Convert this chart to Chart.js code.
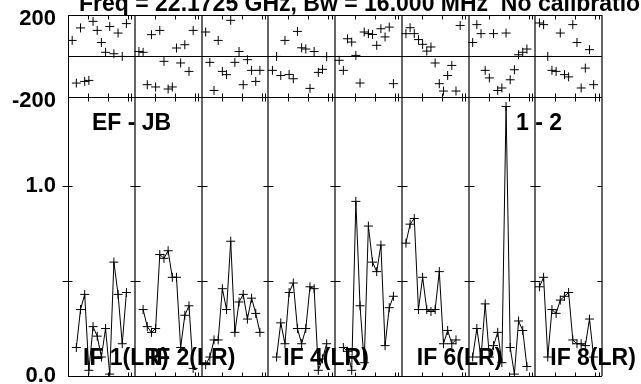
<!DOCTYPE html>
<html>
<head>
<meta charset="utf-8">
<script src="https://cdn.jsdelivr.net/npm/chart.js@4"></script>
<style>
  html, body { margin: 0; padding: 0; background: #fff; }
</style>
</head>
<body>
<canvas id="possm" width="641" height="384"></canvas>
<script>
/* POSSM-style cross-power spectrum, baseline EF - JB, 8 IFs (LR)
   top strip = phase (deg), bottom = amplitude */

const channels = [1, 2, 3, 4, 5, 6, 7, 8, 9, 10, 11, 12, 13, 14];

const ampIF1 = [null, 0.15, 0.35, 0.43, 0.03, 0.26, 0.21, 0.10, 0.25, 0.01, 0.60, 0.43, 0.17, 0.44];
const ampIF2 = [null, 0.35, 0.26, 0.23, 0.25, 0.64, 0.62, 0.66, 0.52, 0.52, 0.15, 0.32, 0.37, 0.04];
const ampIF3 = [0.06, 0.10, 0.19, 0.19, 0.46, 0.35, 0.71, 0.23, 0.39, 0.43, 0.30, 0.41, 0.33, 0.23];
const ampIF4 = [null, 0.10, 0.28, 0.17, 0.44, 0.49, 0.25, 0.17, 0.25, 0.47, 0.46, 0.03, 0.09, 0.17];
const ampIF5 = [null, 0.15, 0.13, 0.03, 0.92, 0.37, 0.07, 0.79, 0.60, 0.55, 0.69, 0.16, 0.36, 0.42];
const ampIF6 = [0.70, 0.80, 0.83, 0.35, 0.52, 0.35, 0.34, 0.35, 0.55, 0.17, 0.24, 0.17, 0.19, null];
const ampIF7 = [0.10, 0.25, 0.10, 0.38, 0.10, 0.16, 0.23, 0.07, 1.42, 0.15, 0.01, 0.29, 0.24, 0.05];
const ampIF8 = [0.47, 0.52, 0.10, 0.35, 0.33, 0.40, 0.42, 0.44, 0.19, 0.17, 0.17, 0.16, 0.30, 0.10];

const phsIF1 = [76, -132, 137, -124, -119, 169, 125, 66, 18, 144, 11, 112, -2, 158];
const phsIF2 = [22, 18, -140, 104, -151, 125, -26, -161, -151, 39, -34, 55, -75, 125];
const phsIF3 = [117, -31, -168, 76, -75, -91, 174, -31, 22, -140, -18, -70, -124, -70];
const phsIF4 = [-70, -2, -95, 76, -90, -111, 120, 40, 34, -158, 22, -80, -65, -3];
const phsIF5 = [-21, -70, 84, 68, 3, -132, 117, 109, 105, 52, 133, 93, 141, -135];
const phsIF6 = [109, 138, 109, 80, 57, 24, 44, -34, -135, -171, -95, -46, -171, 149];
const phsIF7 = [66, 153, 109, -70, -107, 109, -168, -156, 112, -116, -67, 6, 18, 34];
const phsIF8 = [161, 153, -2, -70, -75, 112, -91, -102, 153, 66, -156, -59, 31, -140];

const ifNames = ['IF 1(LR)', 'IF 2(LR)', '', 'IF 4(LR)', '', 'IF 6(LR)', '', 'IF 8(LR)'];
const phaseTicks = [-200, 0, 200];
const ampTicks = [0, 0.5, 1.0];
const ampLabels = ['0.0', '', '1.0'];

const amps = [ampIF1, ampIF2, ampIF3, ampIF4, ampIF5, ampIF6, ampIF7, ampIF8];
const phases = [phsIF1, phsIF2, phsIF3, phsIF4, phsIF5, phsIF6, phsIF7, phsIF8];

const SPAN = 16;              // x units per IF panel
const freqTicks = [4.8, 9.6, 14.4, 15.2];   // small ticks inside each panel
const FONT = '"Liberation Sans", Arial, sans-serif';

const cross = {
    pointStyle: 'cross',
    pointRadius: 4.5,
    pointBorderWidth: 1,
    pointBorderColor: '#000',
    borderColor: '#000',
    borderWidth: 1,
};

const datasets = [];
amps.forEach((vals, i) => {
    datasets.push(Object.assign({
        yAxisID: 'ya',
        showLine: true,
        spanGaps: false,
        data: channels.map((c, k) => ({ x: i * SPAN + c, y: vals[k] })),
    }, cross));
});
phases.forEach((vals, i) => {
    datasets.push(Object.assign({
        yAxisID: 'yp',
        showLine: false,
        data: channels.map((c, k) => ({ x: i * SPAN + c, y: vals[k] })),
    }, cross));
});

// no auto padding for the edge labels, fixed gutter on the left
const pinY = s => { s.width = 68; s.paddingTop = 0; s.paddingBottom = 0; };

// frame lines, panel ticks, title and labels
const decor = {
    id: 'decor',
    beforeDatasetsDraw(chart) {
        const { ctx, chartArea: a, scales: { yp, ya } } = chart;
        const al = v => Math.round(v) + 0.5;
        ctx.save();
        ctx.strokeStyle = '#000';
        ctx.lineWidth = 1;
        ctx.beginPath();
        phaseTicks.forEach(v => {
            const py = al(yp.getPixelForValue(v));
            ctx.moveTo(a.left, py); ctx.lineTo(a.right, py);
        });
        const py0 = al(ya.getPixelForValue(0));
        ctx.moveTo(a.left, py0); ctx.lineTo(a.right, py0);
        ctx.stroke();
        ctx.restore();
    },
    afterDraw(chart) {
        const { ctx, scales: { x, ya, yp } } = chart;
        const n = amps.length;
        const al = v => Math.round(v) + 0.5;
        ctx.save();
        ctx.strokeStyle = '#000';
        ctx.lineWidth = 1;
        ctx.beginPath();
        for (let p = 0; p <= n; p++) {
            const px = al(x.getPixelForValue(p * SPAN));
            const l = p === 0 ? 6 : 5;
            const r = p === n ? 0 : (p === 0 ? 4 : 5);
            ampTicks.filter(v => v > 0).forEach(v => {
                const py = al(ya.getPixelForValue(v));
                ctx.moveTo(px - l, py);
                ctx.lineTo(px + r, py);
            });
        }
        const top = al(yp.getPixelForValue(200));
        const mid = al(yp.getPixelForValue(-200));
        const bot = al(ya.getPixelForValue(0));
        for (let p = 0; p < n; p++) {
            freqTicks.forEach(t => {
                const px = al(x.getPixelForValue(p * SPAN + t));
                ctx.moveTo(px, top); ctx.lineTo(px, top + 4);
                ctx.moveTo(px, mid - 4); ctx.lineTo(px, mid + 4);
                ctx.moveTo(px, bot - 4); ctx.lineTo(px, bot);
            });
        }
        ctx.stroke();

        ctx.fillStyle = '#000';
        ctx.textBaseline = 'alphabetic';
        ctx.textAlign = 'left';
        ctx.font = 'bold 23px ' + FONT;
        ctx.fillText('Freq = 22.1725 GHz, Bw = 16.000 MHz  No calibration applied', 79, 11);

        ctx.fillText('EF - JB', 92, 130);
        ctx.fillText('1 - 2', 516, 130);
        ifNames.forEach((name, i) => {
            if (!name) return;
            ctx.fillText(name, x.getPixelForValue(i * SPAN) + 15, 365);
        });
        ctx.restore();
    }
};

new Chart(document.getElementById('possm'), {
    type: 'scatter',
    data: { datasets },
    plugins: [decor],
    options: {
        responsive: false,
        animation: false,
        layout: { padding: { top: 15, right: 39, bottom: 8, left: 0 } },
        plugins: {
            legend: { display: false },
            tooltip: { enabled: false },
        },
        scales: {
            x: {
                type: 'linear',
                min: 0,
                max: SPAN * amps.length,
                ticks: { display: false, stepSize: SPAN },
                grid: {
                    color: c => (c.index === 0 ? '#000' : '#666'),
                    lineWidth: c => (c.index === 0 ? 1 : 2),
                    drawTicks: false,
                },
                border: { display: false },
                afterFit: s => { s.height = 0; s.paddingLeft = 0; s.paddingRight = 0; },
            },
            yp: {
                type: 'linear',
                position: 'left',
                stack: 'col',
                stackWeight: 82,
                weight: 1,
                min: -200,
                max: 200,
                afterBuildTicks: s => { s.ticks = phaseTicks.map(v => ({ value: v })); },
                ticks: {
                    color: '#000',
                    padding: 12,
                    labelOffset: 4,
                    font: { family: FONT, size: 22, weight: 'bold' },
                    callback: v => (v === 0 ? '' : String(v)),
                },
                grid: { display: false, drawTicks: false },
                border: { color: '#000' },
                afterFit: pinY,
            },
            ya: {
                type: 'linear',
                position: 'left',
                stack: 'col',
                stackWeight: 279,
                weight: 0,
                min: 0,
                max: 1.47,
                afterBuildTicks: s => { s.ticks = ampTicks.map(v => ({ value: v })); },
                ticks: {
                    color: '#000',
                    padding: 12,
                    font: { family: FONT, size: 22, weight: 'bold' },
                    callback: (v, i) => ampLabels[i],
                },
                grid: { display: false, drawTicks: false },
                border: { color: '#000' },
                afterFit: pinY,
            },
        },
    },
});
</script>
</body>
</html>
